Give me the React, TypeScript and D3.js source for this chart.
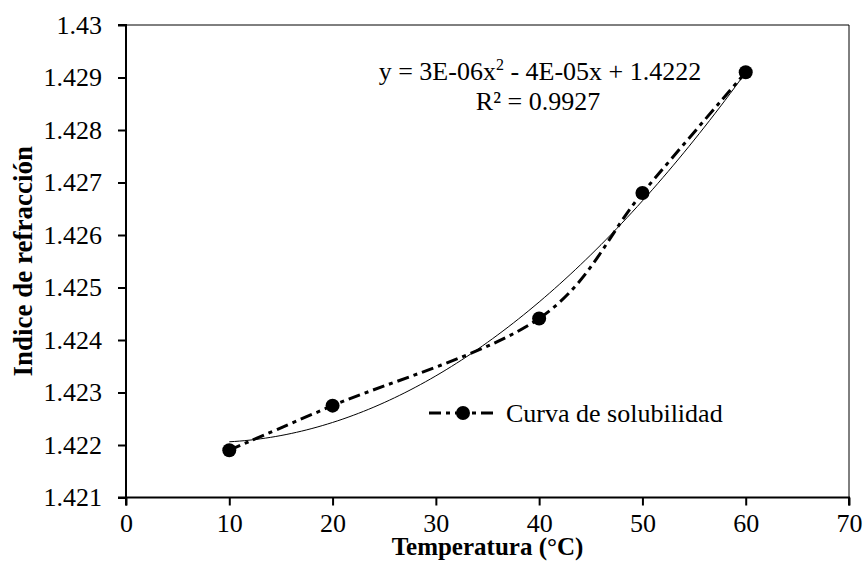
import React, { useEffect, useRef } from 'react';
import * as d3 from 'd3';

const temps = [10, 20, 40, 50, 60];
const indices = [1.4219, 1.42275, 1.42441, 1.4268, 1.4291];
const xTicks = [0, 10, 20, 30, 40, 50, 60, 70];
const yTicks = [1.421, 1.422, 1.423, 1.424, 1.425, 1.426, 1.427, 1.428, 1.429, 1.43];
const equationText = 'y = 3E-06x';
const equationRest = ' - 4E-05x + 1.4222';
const r2Text = 'R² = 0.9927';
const seriesName = 'Curva de solubilidad';

// least squares quadratic fit, like Excel's polynomial trendline
const fitQuadratic = (xs: number[], ys: number[]) => {
  const n = xs.length;
  let s1 = 0, s2 = 0, s3 = 0, s4 = 0, t0 = 0, t1 = 0, t2 = 0;
  xs.forEach((x, i) => {
    const y = ys[i];
    s1 += x; s2 += x * x; s3 += x ** 3; s4 += x ** 4;
    t0 += y; t1 += x * y; t2 += x * x * y;
  });
  const m = [
    [n, s1, s2, t0],
    [s1, s2, s3, t1],
    [s2, s3, s4, t2],
  ];
  for (let c = 0; c < 3; c++) {
    for (let r = c + 1; r < 3; r++) {
      const f = m[r][c] / m[c][c];
      for (let k = c; k < 4; k++) m[r][k] -= f * m[c][k];
    }
  }
  const coef = [0, 0, 0];
  for (let r = 2; r >= 0; r--) {
    let s = m[r][3];
    for (let k = r + 1; k < 3; k++) s -= m[r][k] * coef[k];
    coef[r] = s / m[r][r];
  }
  return (x: number) => coef[0] + coef[1] * x + coef[2] * x * x;
};

const W = 864;
const H = 561;
const FONT = "'Liberation Serif', 'Times New Roman', Times, serif";
const FS = 26;

const App = () => {
  const ref = useRef<SVGSVGElement>(null);

  useEffect(() => {
    if (!ref.current) return;
    const svg = d3.select(ref.current);
    svg.selectAll('*').remove();

    const left = 126, right = 849, top = 25, bottom = 497.5;
    const x = d3.scaleLinear().domain([0, 70]).range([left, right]);
    const y = d3.scaleLinear().domain([1.421, 1.43]).range([bottom, top]);

    // frame (top / right thin)
    svg.append('line').attr('x1', left).attr('x2', right).attr('y1', top).attr('y2', top)
      .attr('stroke', '#000').attr('stroke-width', 1);
    svg.append('line').attr('x1', right).attr('x2', right).attr('y1', top).attr('y2', bottom)
      .attr('stroke', '#000').attr('stroke-width', 1);

    const yAxis = svg.append('g').attr('transform', `translate(${left},0)`)
      .call(d3.axisLeft(y).tickValues(yTicks).tickSize(8).tickPadding(16).tickFormat((d) => String(+(+d).toFixed(3))));
    const xAxis = svg.append('g').attr('transform', `translate(0,${bottom})`)
      .call(d3.axisBottom(x).tickValues(xTicks).tickSize(8).tickPadding(8).tickFormat((d) => String(d)));

    [yAxis, xAxis].forEach((g) => {
      g.attr('font-family', null).attr('font-size', null);
      g.select('.domain').attr('stroke', '#000').attr('stroke-width', 2);
      g.selectAll('.tick line').attr('stroke', '#000').attr('stroke-width', 2);
      g.selectAll('.tick text').attr('fill', '#000').style('font-size', `${FS}px`);
    });
    yAxis.select('.domain').attr('d', `M-8,${top}H0V${bottom}H-8`);
    xAxis.select('.domain').attr('d', `M${left},8V0H${right}V8`);

    // trendline
    const f = fitQuadratic(temps, indices);
    const trend = d3.range(10, 60.01, 0.5).map((t) => [t, f(t)] as [number, number]);
    svg.append('path')
      .attr('d', d3.line<[number, number]>().x((d) => x(d[0])).y((d) => y(d[1]))(trend) || '')
      .attr('fill', 'none').attr('stroke', '#000').attr('stroke-width', 1);

    // series line (smoothed, dash-dot)
    const pts = temps.map((t, i) => [t, indices[i]] as [number, number]);
    const dash = '12,5,4,5';
    svg.append('path')
      .attr('d', d3.line<[number, number]>().x((d) => x(d[0])).y((d) => y(d[1])).curve(d3.curveCardinal.tension(0))(pts) || '')
      .attr('fill', 'none').attr('stroke', '#000').attr('stroke-width', 3).attr('stroke-dasharray', dash);

    svg.append('g').selectAll('circle').data(pts).join('circle')
      .attr('cx', (d) => x(d[0])).attr('cy', (d) => y(d[1])).attr('r', 7).attr('fill', '#000');

    // equation
    const eq = svg.append('text').attr('x', 540).attr('y', 80).attr('text-anchor', 'middle')
      .style('font-size', `${FS}px`).attr('fill', '#000');
    eq.append('tspan').text(equationText);
    eq.append('tspan').style('font-size', '16px').attr('dy', -10).text('2');
    eq.append('tspan').attr('dy', 10).text(equationRest);
    svg.append('text').attr('x', 538).attr('y', 110).attr('text-anchor', 'middle')
      .style('font-size', `${FS}px`).attr('fill', '#000').text(r2Text);

    // legend
    const ly = 413;
    svg.append('line').attr('x1', 429).attr('x2', 498).attr('y1', ly).attr('y2', ly)
      .attr('stroke', '#000').attr('stroke-width', 3).attr('stroke-dasharray', dash);
    svg.append('circle').attr('cx', 463).attr('cy', ly).attr('r', 7).attr('fill', '#000');
    svg.append('text').attr('x', 506).attr('y', 422).style('font-size', `${FS}px`)
      .attr('fill', '#000').text(seriesName);

    // axis titles
    svg.append('text').attr('x', (left + right) / 2).attr('y', 555).attr('text-anchor', 'middle')
      .style('font-size', '25px').attr('font-weight', 'bold').attr('fill', '#000')
      .text('Temperatura (°C)');
    svg.append('text').attr('transform', `translate(32,${(top + bottom) / 2}) rotate(-90)`)
      .attr('text-anchor', 'middle').style('font-size', '27px')
      .attr('font-weight', 'bold').attr('fill', '#000').text('Indice de refracción');
  }, []);

  return (
    <svg
      ref={ref}
      width={W}
      height={H}
      style={{ position: 'absolute', left: 0, top: 0, background: '#fff', fontFamily: FONT }}
    />
  );
};

export default App;
